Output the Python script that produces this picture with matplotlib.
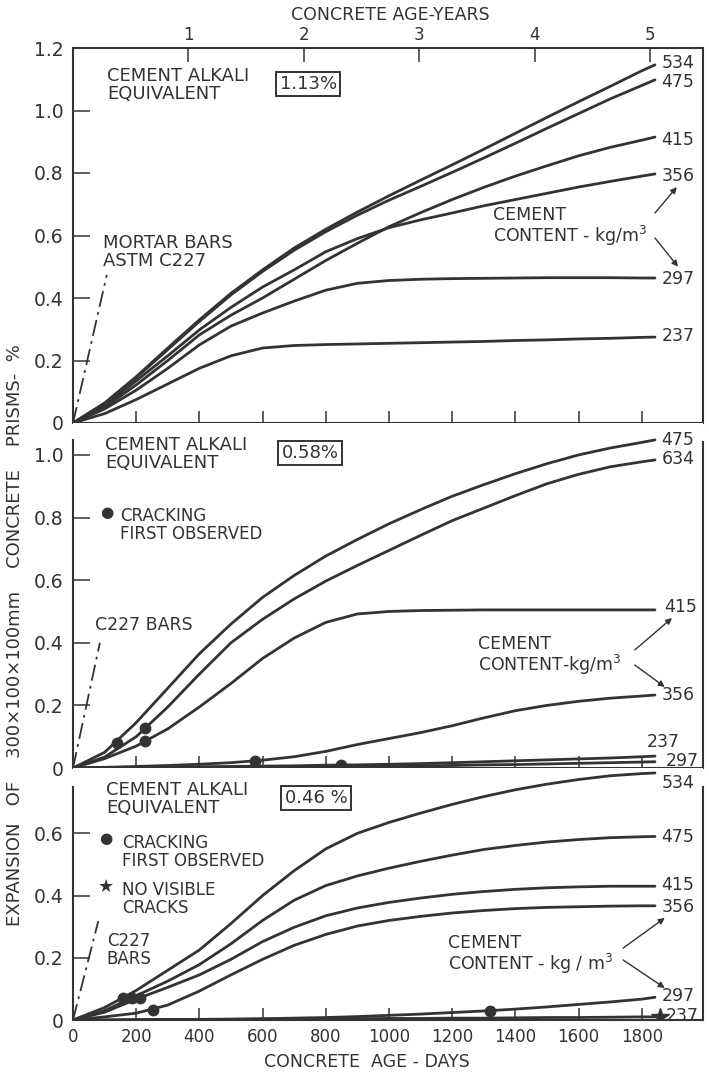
import matplotlib
matplotlib.use("Agg")
import matplotlib.pyplot as plt

plt.rcParams['font.family'] = ['DejaVu Sans']
plt.rcParams['mathtext.default'] = 'regular'

INK = '#333333'

# ---------------- data ----------------
# common reading grid (days)
days = [0, 100, 200, 300, 400, 500, 600, 700, 800, 900, 1000, 1100, 1200,
        1300, 1400, 1500, 1600, 1700, 1800, 1842]

# Panel A: cement alkali equivalent 1.13 %  (cement content kg/m3)
top_534 = [0, .064, .148, .24, .33, .415, .49, .56, .62, .675, .727, .777, .826,
           .876, .927, .978, 1.028, 1.077, 1.127, 1.146]
top_475 = [0, .062, .145, .235, .325, .41, .485, .553, .612, .665, .713, .757, .802,
           .848, .895, .943, .99, 1.037, 1.08, 1.098]
top_415 = [0, .05, .122, .20, .282, .345, .40, .46, .52, .575, .628, .673, .715,
           .754, .79, .823, .855, .882, .905, .915]
top_356 = [0, .055, .135, .215, .298, .37, .435, .49, .548, .59, .625, .65, .672,
           .695, .715, .735, .755, .773, .79, .797]
top_297 = [0, .045, .105, .175, .25, .31, .352, .39, .425, .447, .456, .46, .462,
           .463, .464, .465, .465, .465, .464, .464]
top_237 = [0, .03, .075, .125, .175, .215, .24, .248, .251, .253, .255, .257, .259,
           .261, .264, .266, .269, .271, .274, .275]
top_labels = ['534', '475', '415', '356', '297', '237']
top_mortar_days = [0, 107]
top_mortar_exp = [0, 0.474]

# Panel B: cement alkali equivalent 0.58 %
mid_475 = [0, .05, .145, .255, .365, .46, .545, .615, .677, .73, .78, .825, .868,
           .905, .94, .972, 1.0, 1.022, 1.04, 1.048]
mid_634 = [0, .035, .10, .195, .30, .40, .475, .54, .597, .647, .695, .743, .79,
           .83, .87, .908, .938, .962, .978, .984]
mid_415 = [0, .03, .07, .125, .195, .27, .35, .415, .465, .492, .50, .503, .504,
           .505, .505, .505, .505, .505, .505, .505]
mid_356 = [0, .002, .005, .008, .012, .017, .025, .036, .053, .075, .094, .113, .135,
           .16, .183, .20, .213, .223, .23, .233]
mid_237 = [0, .001, .002, .003, .004, .005, .006, .007, .009, .01, .012, .014, .017,
           .02, .023, .026, .029, .032, .036, .038]
mid_297 = [0, .001, .001, .001, .002, .002, .003, .003, .004, .005, .006, .007, .008,
           .01, .011, .013, .015, .017, .019, .02]
mid_labels = ['475', '634', '415', '356', '237', '297']
mid_crack_days = [138, 228, 228, 576, 847]
mid_crack_exp = [.079, .127, .085, .023, .0095]
mid_c227_days = [0, 85]
mid_c227_exp = [0, 0.40]

# Panel C: cement alkali equivalent 0.46 %
bot_534 = [0, .04, .095, .16, .225, .31, .40, .48, .55, .60, .635, .665, .693,
           .718, .74, .758, .773, .785, .792, .794]
bot_475 = [0, .03, .078, .125, .178, .245, .32, .385, .432, .463, .488, .51, .53,
           .548, .561, .572, .58, .586, .589, .59]
bot_415 = [0, .025, .067, .105, .145, .195, .252, .298, .335, .36, .378, .392, .404,
           .413, .42, .425, .428, .43, .43, .43]
bot_356 = [0, .01, .022, .048, .093, .145, .195, .24, .275, .302, .32, .333, .344,
           .352, .358, .362, .364, .366, .367, .367]
bot_297 = [0, 0, .001, .002, .002, .003, .004, .006, .008, .011, .015, .019, .024,
           .029, .035, .042, .05, .058, .067, .073]
bot_237 = [0, 0, .001, .001, .002, .002, .003, .003, .004, .004, .005, .005, .006,
           .006, .007, .008, .008, .009, .01, .01]
bot_labels = ['534', '475', '415', '356', '297', '237']
bot_crack_days = [159, 186, 212, 252, 1320]
bot_crack_exp = [.072, .072, .072, .032, .03]
bot_star_days = [1857]
bot_star_exp = [.01]
bot_c227_days = [0, 80]
bot_c227_exp = [0, 0.318]

day_ticks = [0, 200, 400, 600, 800, 1000, 1200, 1400, 1600, 1800]
year_ticks = [1, 2, 3, 4, 5]

# ---------------- figure ----------------
W, H = 709, 1075
fig = plt.figure(figsize=(W / 100, H / 100), dpi=100)
fig.patch.set_facecolor('white')

L, R = 73 / W, 703 / W
def frac(py):
    return 1 - py / H

ax1 = fig.add_axes([L, frac(423), R - L, frac(48) - frac(423)])
ax2 = fig.add_axes([L, frac(768), R - L, frac(423) - frac(768)])
ax3 = fig.add_axes([L, frac(1020), R - L, frac(768) - frac(1020)])

XMAX = 1994
LW = 2.0

def style(ax, ymax, yticks, ylabels):
    ax.set_xlim(0, XMAX)
    ax.set_ylim(0, ymax)
    ax.set_xticks(day_ticks)
    ax.set_yticks(yticks)
    ax.set_yticklabels(ylabels)
    ax.tick_params(axis='y', direction='in', length=12, width=1.1, colors=INK,
                   labelsize=13.5, pad=7, labelcolor=INK)
    ax.tick_params(axis='x', direction='in', length=9, width=1.1, colors=INK,
                   labelsize=12, pad=6, labelcolor=INK)
    for s in ax.spines.values():
        s.set_linewidth(1.5)
        s.set_color(INK)

style(ax1, 1.2, [0, .2, .4, .6, .8, 1.0, 1.2], ['0', '0.2', '0.4', '0.6', '0.8', '1.0', '1.2'])
style(ax2, 1.102, [0, .2, .4, .6, .8, 1.0], ['0', '0.2', '0.4', '0.6', '0.8', '1.0'])
style(ax3, 0.81, [0, .2, .4, .6], ['0', '0.2', '0.4', '0.6'])
ax1.tick_params(axis='x', labelbottom=False)
ax2.tick_params(axis='x', labelbottom=False)
ax3.set_xticklabels([str(d) for d in day_ticks])

ax2.spines['top'].set_visible(False)
ax2.spines['left'].set_bounds(0, 1.048)
ax2.spines['right'].set_bounds(0, 1.04)
ax3.spines['top'].set_visible(False)
ax3.spines['left'].set_bounds(0, 0.75)
ax3.spines['right'].set_bounds(0, 0.75)

# years axis on top
sec = ax1.secondary_xaxis('top', functions=(lambda d: d / 365.25, lambda y: y * 365.25))
sec.set_xticks(year_ticks)
sec.set_xticklabels([str(y) for y in year_ticks])
sec.tick_params(direction='in', length=10, width=1.1, colors=INK, labelsize=12, pad=3)
sec.spines['top'].set_visible(False)
fig.text(390 / W, frac(15), 'CONCRETE AGE-YEARS', ha='center', va='center',
         fontsize=12.5, color=INK)

CURVE = dict(color=INK, lw=LW, solid_capstyle='round', solid_joinstyle='round')
DASHDOT = dict(color=INK, lw=1.3, ls=(0, (9, 3, 1.5, 3)))
BOXKW = dict(boxstyle='square,pad=0.18', fc='white', ec=INK, lw=1.4)
TXT = dict(color=INK, ha='left', va='top', linespacing=1.0)
AKW = dict(arrowstyle='-|>', lw=1.0, color=INK, mutation_scale=9, shrinkA=0, shrinkB=0)

# ---------- panel A ----------
for vals in [top_534, top_475, top_415, top_356, top_297, top_237]:
    ax1.plot(days, vals, **CURVE)
ax1.plot(top_mortar_days, top_mortar_exp, **DASHDOT)
top_lab_y = [1.152, 1.09, 0.906, 0.79, 0.46, 0.278]
for lab, yy in zip(top_labels, top_lab_y):
    ax1.text(1862, yy, lab, fontsize=12.5, color=INK, ha='left', va='center')

ax1.text(108, 1.14, 'CEMENT ALKALI\nEQUIVALENT', fontsize=13, **TXT)
ax1.text(744, 1.085, '1.13%', fontsize=13, color=INK, ha='center', va='center', bbox=BOXKW)
ax1.text(95, 0.605, 'MORTAR BARS\nASTM C227', fontsize=13, **TXT)
ax1.text(1329, 0.695, 'CEMENT\nCONTENT - kg/m$^3$', fontsize=12.5, **TXT)
ax1.annotate('', xy=(1911, 0.755), xytext=(1842, 0.672), arrowprops=AKW)
ax1.annotate('', xy=(1915, 0.50), xytext=(1842, 0.592), arrowprops=AKW)

# ---------- panel B ----------
for vals in [mid_475, mid_634, mid_415, mid_356, mid_237, mid_297]:
    ax2.plot(days, vals, **CURVE)
ax2.plot(mid_crack_days, mid_crack_exp, 'o', color=INK, ms=7.5, ls='none')
ax2.plot(mid_c227_days, mid_c227_exp, **DASHDOT)
mid_lab_y = [1.048, 0.987, 0.514, 0.233, 0.083, 0.022]
mid_lab_x = [1862, 1862, 1870, 1862, 1815, 1875]
for lab, xx, yy in zip(mid_labels, mid_lab_x, mid_lab_y):
    ax2.text(xx, yy, lab, fontsize=12.5, color=INK, ha='left', va='center')
ax2.text(102, 1.062, 'CEMENT ALKALI\nEQUIVALENT', fontsize=13, **TXT)
ax2.text(750, 1.006, '0.58%', fontsize=13, color=INK, ha='center', va='center', bbox=BOXKW)
ax2.text(107, 0.815, '●', fontsize=11, color=INK, ha='center', va='center')
ax2.text(148, 0.835, 'CRACKING\nFIRST OBSERVED', fontsize=12, **TXT)
ax2.text(70, 0.457, 'C227 BARS', fontsize=12.5, color=INK, ha='left', va='center')
ax2.text(1282, 0.425, 'CEMENT\nCONTENT-kg/m$^3$', fontsize=12.5, **TXT)
ax2.annotate('', xy=(1896, 0.479), xytext=(1778, 0.377), arrowprops=AKW)
ax2.annotate('', xy=(1873, 0.259), xytext=(1778, 0.329), arrowprops=AKW)

# ---------- panel C ----------
for vals in [bot_534, bot_475, bot_415, bot_356, bot_297, bot_237]:
    ax3.plot(days, vals, **CURVE)
ax3.plot(bot_crack_days, bot_crack_exp, 'o', color=INK, ms=7.5, ls='none')
ax3.plot(bot_star_days, bot_star_exp, '*', color=INK, ms=13, ls='none')
ax3.plot(bot_c227_days, bot_c227_exp, **DASHDOT)
bot_lab_y = [0.762, 0.588, 0.434, 0.363, 0.077, 0.013]
bot_lab_x = [1862, 1862, 1862, 1862, 1862, 1875]
for lab, xx, yy in zip(bot_labels, bot_lab_x, bot_lab_y):
    ax3.text(xx, yy, lab, fontsize=12.5, color=INK, ha='left', va='center')
ax3.text(104, 0.767, 'CEMENT ALKALI\nEQUIVALENT', fontsize=13, **TXT)
ax3.text(769, 0.714, '0.46 %', fontsize=13, color=INK, ha='center', va='center', bbox=BOXKW)
ax3.text(104, 0.582, '●', fontsize=11, color=INK, ha='center', va='center')
ax3.text(155, 0.598, 'CRACKING\nFIRST OBSERVED', fontsize=12, **TXT)
ax3.text(104, 0.428, '★', fontsize=13, color=INK, ha='center', va='center')
ax3.text(155, 0.447, 'NO VISIBLE\nCRACKS', fontsize=12, **TXT)
ax3.text(107, 0.283, 'C227\nBARS', fontsize=12, **TXT)
ax3.text(1187, 0.277, 'CEMENT\nCONTENT - kg / m$^3$', fontsize=12.5, **TXT)
ax3.annotate('', xy=(1873, 0.328), xytext=(1741, 0.231), arrowprops=AKW)
ax3.annotate('', xy=(1873, 0.103), xytext=(1741, 0.193), arrowprops=AKW)

fig.text(367 / W, frac(1062), 'CONCRETE  AGE - DAYS', ha='center', va='center',
         fontsize=12.5, color=INK)
fig.text(15 / W, frac(635),
         'EXPANSION   OF    300×100×100mm    CONCRETE    PRISMS-  %',
         rotation=90, ha='center', va='center', fontsize=13, color=INK)

fig.savefig('out.png', dpi=100, facecolor='white')
